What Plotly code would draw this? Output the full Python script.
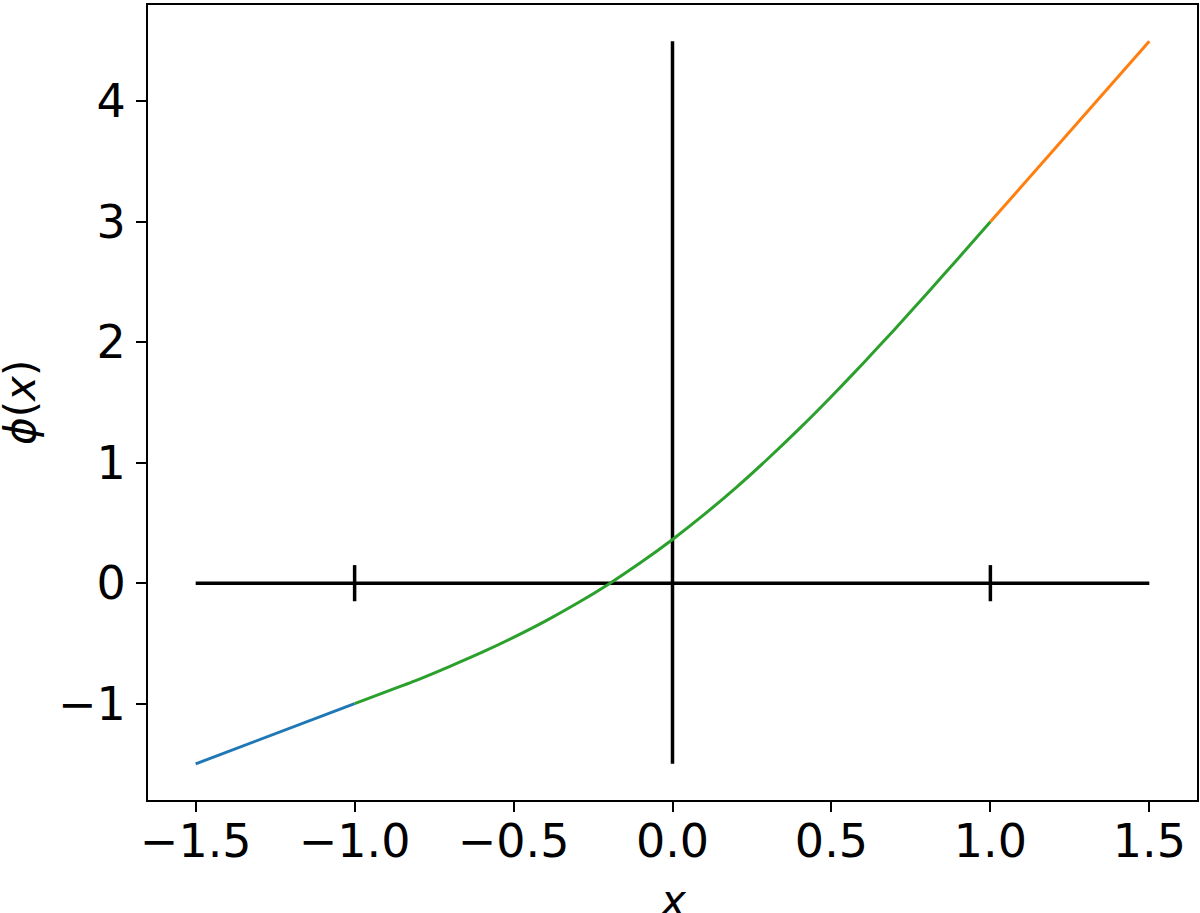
import plotly.graph_objects as go

BLUE = "#1f77b4"
ORANGE = "#ff7f0e"
GREEN = "#2ca02c"
FONT = "DejaVu Sans"

# left linear piece
blue_x = [-1.5, -1.0]
blue_y = [-1.5, -1.0]

# right linear piece
orange_x = [1.0, 1.5]
orange_y = [3.0, 4.5]

# smooth middle piece
green_x = [-1.0, -0.9, -0.8, -0.7, -0.6, -0.5, -0.4, -0.3, -0.2, -0.1, 0.0,
           0.1, 0.2, 0.3, 0.4, 0.5, 0.6, 0.7, 0.8, 0.9, 1.0]
green_y = [-1.00, -0.90, -0.80, -0.69, -0.575, -0.45, -0.315, -0.167, -0.006, 0.171, 0.363,
           0.571, 0.794, 1.033, 1.285, 1.55, 1.826, 2.111, 2.403, 2.70, 3.00]

# black reference axes drawn inside the plot
hline_x = [-1.5, 1.5]
hline_y = [0, 0]
vline_x = [0, 0]
vline_y = [-1.5, 4.5]
tick_marks_x = [-1.0, 1.0]
tick_half = 0.15

x_ticks = [-1.5, -1.0, -0.5, 0.0, 0.5, 1.0, 1.5]
x_labels = ["\u22121.5", "\u22121.0", "\u22120.5", "0.0", "0.5", "1.0", "1.5"]
y_ticks = [-1, 0, 1, 2, 3, 4]
y_labels = ["\u22121", "0", "1", "2", "3", "4"]

fig = go.Figure()

black = dict(color="black", width=3.5)
fig.add_trace(go.Scatter(x=hline_x, y=hline_y, mode="lines", line=black))
for tx in tick_marks_x:
    fig.add_trace(go.Scatter(x=[tx, tx], y=[-tick_half, tick_half], mode="lines", line=black))
fig.add_trace(go.Scatter(x=vline_x, y=vline_y, mode="lines", line=black))

fig.add_trace(go.Scatter(x=blue_x, y=blue_y, mode="lines", line=dict(color=BLUE, width=3)))
fig.add_trace(go.Scatter(x=orange_x, y=orange_y, mode="lines", line=dict(color=ORANGE, width=3)))
fig.add_trace(go.Scatter(x=green_x, y=green_y, mode="lines",
                         line=dict(color=GREEN, width=3, shape="spline", smoothing=0.6)))

axis_common = dict(
    showline=True, linecolor="black", linewidth=2, mirror=True,
    showgrid=False, zeroline=False, automargin=False,
    ticks="outside", ticklen=10, tickwidth=2, tickcolor="black",
    tickfont=dict(family=FONT, size=46, color="black"),
)

fig.update_layout(
    width=1200, height=913,
    paper_bgcolor="white", plot_bgcolor="white",
    showlegend=False,
    margin=dict(l=148, r=3, t=5, b=113),
    font=dict(family=FONT, color="black"),
    xaxis=dict(range=[-1.65, 1.65], tickvals=x_ticks, ticktext=x_labels,
               ticklabelstandoff=-10, **axis_common),
    yaxis=dict(range=[-1.8, 4.8], tickvals=y_ticks, ticktext=y_labels,
               ticklabelstandoff=1, **axis_common),
)

# axis titles placed by hand, like matplotlib labels
fig.add_annotation(text="<i>x</i>", xref="paper", yref="paper", x=0.5, y=0,
                   yshift=-74, yanchor="top", showarrow=False,
                   font=dict(family=FONT, size=42, color="black"))
fig.add_annotation(text="<i>\u03d5</i>(<i>x</i>)", xref="paper", yref="paper", x=0, y=0.5,
                   xshift=-101, xanchor="right", textangle=-90, showarrow=False,
                   font=dict(family=FONT, size=42, color="black"))

# the page body has a default margin; drop it so the figure fills the window
fig.write_html("out.html", config={"displayModeBar": False},
               post_script="document.body.style.margin='0';")
